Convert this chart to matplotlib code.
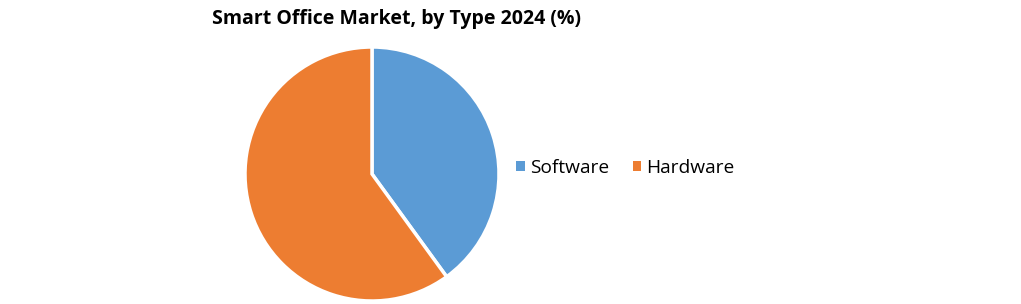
import matplotlib.pyplot as plt
from matplotlib.patches import Patch

# Smart Office market share by type, 2024
types = ["Software", "Hardware"]
shares = [40, 60]
colors = ["#5B9BD5", "#ED7D31"]

plt.rcParams['font.family'] = ['Open Sans', 'DejaVu Sans']

fig = plt.figure(figsize=(10.21, 3.04), dpi=100)
# square axes holding the pie, centre ~ (372, 174) px, radius ~127 px
ax = fig.add_axes([(372 - 127) / 1021, (304 - 174 - 127) / 304, 254 / 1021, 254 / 304])
ax.pie(shares, colors=colors, startangle=90, counterclock=False,
       wedgeprops=dict(edgecolor="white", linewidth=2.5))
ax.set_xlim(-1, 1)
ax.set_ylim(-1, 1)
ax.set_aspect("equal")

fig.text(396 / 1021, 1 - 19 / 304, "Smart Office Market, by Type 2024 (%)",
         ha="center", va="center", fontsize=14, fontweight="bold")

handles = [Patch(facecolor=c, edgecolor="none") for c in colors]
fig.legend(handles, types, ncol=2, loc="center left",
           bbox_to_anchor=(499 / 1021, 1 - 168 / 304), frameon=False,
           fontsize=13.8, handlelength=0.45, handleheight=0.45,
           handletextpad=0.25, columnspacing=1.25)

fig.savefig("out.png", dpi=100)
